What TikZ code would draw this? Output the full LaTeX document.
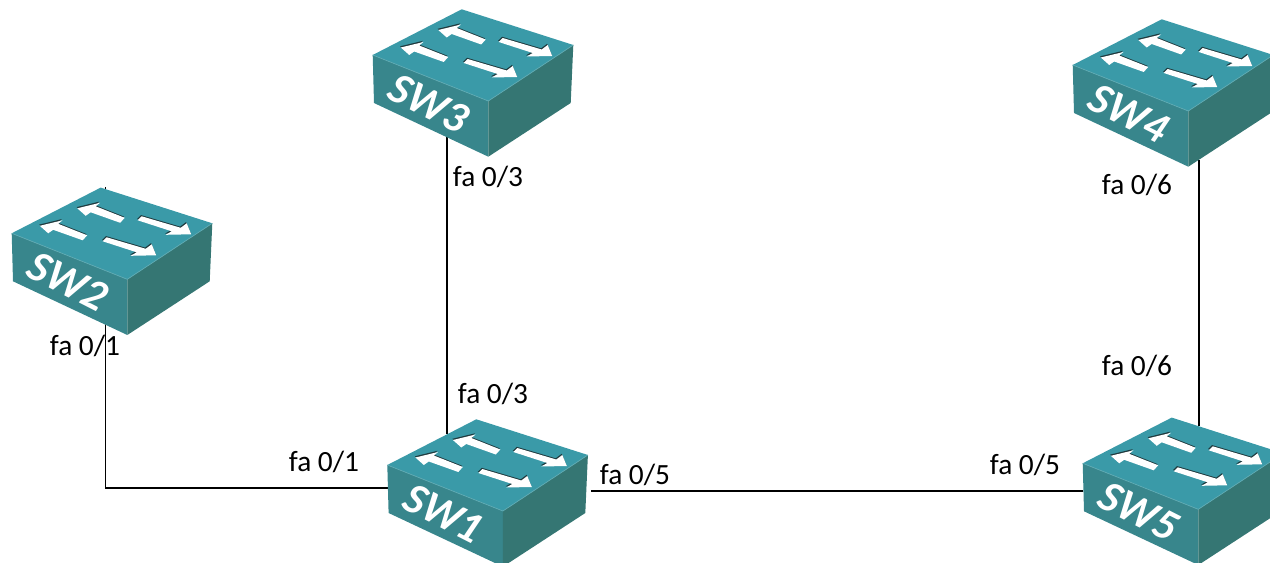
\documentclass[tikz,border=0pt]{standalone}
\usepackage{fontspec}
\setmainfont{Carlito}
\usetikzlibrary{backgrounds}

\definecolor{swtop}{HTML}{3A9AA8}
\definecolor{swleft}{HTML}{38868C}
\definecolor{swright}{HTML}{357673}
\definecolor{swedge}{HTML}{5FAAB2}
\definecolor{swshade}{HTML}{1F3A3E}

\tikzset{
    link/.style={draw=black, line width=1.1pt},
    port/.style={font=\fontsize{16.7}{20}\selectfont, text=black, inner sep=0pt},
    swname/.style={font=\fontsize{25}{30}\selectfont\bfseries\itshape, text=white, rotate=-27, inner sep=0pt}
}

% Switch: name, position of left corner of top face, label
\newcommand{\drawswitch}[4]{
    \begin{scope}[shift={(#2,#3)}]
        % Faces
        \fill[swleft] (0,0) -- (115.6,46) -- (115.6,101.7) -- (1.3,48) -- cycle;
        \fill[swright] (115.6,46) -- (200.6,-10) -- (198,48) -- (115.6,101.7) -- cycle;
        \fill[swtop] (0,0) -- (89,-45.7) -- (200.6,-10) -- (115.6,46) -- cycle;
        \draw[swedge, line width=0.4pt] (0,0) -- (115.6,46) -- (200.6,-10);

        % Arrows on top face
        \foreach \dx/\dy in {0/0, -37.5/17.5} {
            \fill[swshade, shift={(\dx-0.6,\dy-1.2)}] (65.6,-25) -- (88.3,-30.5) -- (84,-27) -- (113,-15.5)
                -- (108.5,-10.5) -- (79,-21) -- (74,-17.5) -- cycle;
            \fill[white, shift={(\dx,\dy)}] (65.6,-25) -- (88.3,-30.5) -- (84,-27) -- (113,-15.5)
                -- (108.5,-10.5) -- (79,-21) -- (74,-17.5) -- cycle;
        }
        \foreach \dx/\dy in {0/0, -35/21} {
            \fill[swshade, shift={(\dx-0.6,\dy-1.2)}] (130,-17) -- (169,-5.5) -- (175,-10) -- (179.5,1)
                -- (154,1.5) -- (160,-2) -- (126,-13) -- cycle;
            \fill[white, shift={(\dx,\dy)}] (130,-17) -- (169,-5.5) -- (175,-10) -- (179.5,1)
                -- (154,1.5) -- (160,-2) -- (126,-13) -- cycle;
        }

        \node[swname] (#1) at (56,48) {#4};
    \end{scope}
}

\begin{document}
\begin{tikzpicture}[x=0.02cm, y=-0.02cm]
    \clip (0,0) rectangle (1270,563);

    % Draw switches
    \drawswitch{swA}{387.3}{465}{SW1}
    \drawswitch{swB}{11.7}{233.3}{SW2}
    \drawswitch{swC}{372.7}{55}{SW3}
    \drawswitch{swD}{1072.7}{65}{SW4}
    \drawswitch{swE}{1082.7}{463.3}{SW5}

    % Ends of links
    \coordinate (swBtick) at (105.5,187);
    \coordinate (swBcorner) at (105.5,488);
    \coordinate (swAleft) at (389,488);
    \coordinate (swCdown) at (447,137);
    \coordinate (swAup) at (447,434);
    \coordinate (swAright) at (591,491);
    \coordinate (swEleft) at (1083,491);
    \coordinate (swEstub) at (1071,491);
    \coordinate (swDdown) at (1199,160);
    \coordinate (swEup) at (1199,426);

    % Draw links behind switches
    \begin{pgfonlayer}{background}
        \draw[link] (swBtick) -- (swBcorner) -- (swAleft);
        \draw[link] (swCdown) -- (swAup);
        \draw[link] (swAright) -- (swEleft);
        \draw[link] (swDdown) -- (swEup);
    \end{pgfonlayer}
    \draw[link, line width=1.7pt] (swEstub) -- (swEleft);

    % Draw port labels
    \node[port] (portA) at (85,346) {fa 0/1};
    \node[port] (portB) at (324,462) {fa 0/1};
    \node[port] (portC) at (488,177) {fa 0/3};
    \node[port] (portD) at (493,394) {fa 0/3};
    \node[port] (portE) at (635,475) {fa 0/5};
    \node[port] (portF) at (1025,465) {fa 0/5};
    \node[port] (portG) at (1137,185) {fa 0/6};
    \node[port] (portH) at (1137,366) {fa 0/6};
\end{tikzpicture}
\end{document}
